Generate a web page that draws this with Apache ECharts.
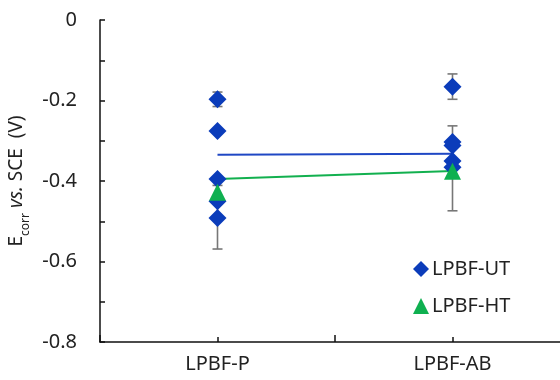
<!DOCTYPE html>
<html><head><meta charset="utf-8">
<script src="https://cdn.jsdelivr.net/npm/echarts@6/dist/echarts.min.js"></script>
<style>html,body{margin:0;padding:0;background:#fff}#c{width:560px;height:380px}</style>
</head><body><div id="c"></div>
<script>
const categories = ['LPBF-P', 'LPBF-AB'];
const yTicks = [0, -0.2, -0.4, -0.6, -0.8];
// individual measurements (category index 1-based, value)
const utP = [-0.197, -0.276, -0.395, -0.450, -0.492];
const utAB = [-0.166, -0.303, -0.312, -0.350, -0.366];
const htP = [-0.428];
const htAB = [-0.376];
// trend lines (mean values)
const utLine = [-0.335, -0.332];
const htLine = [-0.395, -0.375];
// error bars: [category, low, high]
const errBars = [
  [1, -0.215, -0.179],
  [1, -0.569, -0.411],
  [2, -0.197, -0.134],
  [2, -0.474, -0.263]
];

const ff = 'Noto Sans';
const fs = 20;
const utData = utP.map(v => [1, v]).concat(utAB.map(v => [2, v]));
const htData = htP.map(v => [1, v]).concat(htAB.map(v => [2, v]));

const chart = echarts.init(document.getElementById('c'));
chart.setOption({
  animation: false,
  grid: { left: 100, top: 20, height: 322, width: 470, outerBoundsMode: 'none', containLabel: false },
  legend: {
    orient: 'vertical', left: 408, top: 254, itemGap: 17,
    itemWidth: 16, itemHeight: 16,
    textStyle: { fontFamily: ff, fontSize: fs, color: '#222', padding: [0, 0, 0, -2] },
    data: [{ name: 'LPBF-UT', icon: 'diamond' }, { name: 'LPBF-HT', icon: 'triangle' }]
  },
  xAxis: [{
    type: 'value', min: 0.5, max: 2.5, interval: 1, position: 'bottom',
    axisLine: { onZero: false, lineStyle: { color: '#111', width: 1.5 } },
    axisTick: { show: true, inside: true, length: 7, lineStyle: { color: '#111', width: 1.5 } },
    minorTick: { show: true, splitNumber: 2, length: 5, lineStyle: { color: '#111', width: 1.5 } },
    axisLabel: { show: false }, splitLine: { show: false }
  }, {
    type: 'value', min: 0.5, max: 2.5, interval: 0.5, position: 'bottom',
    axisLine: { show: false, onZero: false }, axisTick: { show: false }, splitLine: { show: false },
    axisLabel: {
      margin: 12, fontFamily: ff, fontSize: fs, color: '#222',
      formatter: v => (Math.abs(v - Math.round(v)) < 1e-6 && categories[Math.round(v) - 1]) ? categories[Math.round(v) - 1] : ''
    }
  }],
  yAxis: {
    type: 'value', min: -0.8, max: 0, interval: 0.1,
    axisLine: { show: true, onZero: false, lineStyle: { color: '#111', width: 1.5 } },
    axisTick: { show: true, inside: true, length: 5, lineStyle: { color: '#111', width: 1.5 } },
    splitLine: { show: false },
    axisLabel: {
      margin: 23, fontFamily: ff, fontSize: fs, color: '#222',
      formatter: v => {
        const t = yTicks.find(x => Math.abs(x - v) < 1e-6);
        return t === undefined ? '' : (t === 0 ? '0' : t.toFixed(1));
      }
    },
    name: '{a|E}{b|corr}{a| }{c|vs.}{a| SCE  (V)}',
    nameLocation: 'middle', nameGap: 66, nameRotate: 90,
    nameTextStyle: {
      rich: {
        a: { fontFamily: ff, fontSize: 19, color: '#222', lineHeight: 22 },
        b: { fontFamily: ff, fontSize: 12, color: '#222', verticalAlign: 'bottom', lineHeight: 22, padding: [0, 0, -4, 0] },
        c: { fontFamily: ff, fontSize: 19, color: '#222', fontStyle: 'italic', lineHeight: 22 }
      }
    }
  },
  series: [
    { type: 'line', name: 'UTline', data: [[1, utLine[0]], [2, utLine[1]]], symbol: 'none',
      lineStyle: { color: '#1f47c4', width: 2 }, z: 1 },
    { type: 'line', name: 'HTline', data: [[1, htLine[0]], [2, htLine[1]]], symbol: 'none',
      lineStyle: { color: '#12b04f', width: 2 }, z: 1 },
    { type: 'custom', name: 'err', z: 2, data: errBars,
      renderItem: (params, api) => {
        const x = api.value(0);
        const lo = api.coord([x, api.value(1)]);
        const hi = api.coord([x, api.value(2)]);
        const w = 5;
        const st = { stroke: '#777', lineWidth: 1.6 };
        return { type: 'group', children: [
          { type: 'line', shape: { x1: lo[0], y1: lo[1], x2: hi[0], y2: hi[1] }, style: st },
          { type: 'line', shape: { x1: lo[0] - w, y1: lo[1], x2: lo[0] + w, y2: lo[1] }, style: st },
          { type: 'line', shape: { x1: hi[0] - w, y1: hi[1], x2: hi[0] + w, y2: hi[1] }, style: st }
        ]};
      }
    },
    { type: 'scatter', name: 'LPBF-UT', data: utData, symbol: 'diamond', symbolSize: 18,
      itemStyle: { color: '#0b3cba', opacity: 1 }, z: 3 },
    { type: 'scatter', name: 'LPBF-HT', data: htData, symbol: 'triangle', symbolSize: 17,
      itemStyle: { color: '#0fb050', opacity: 1 }, z: 4 }
  ]
});
</script></body></html>
